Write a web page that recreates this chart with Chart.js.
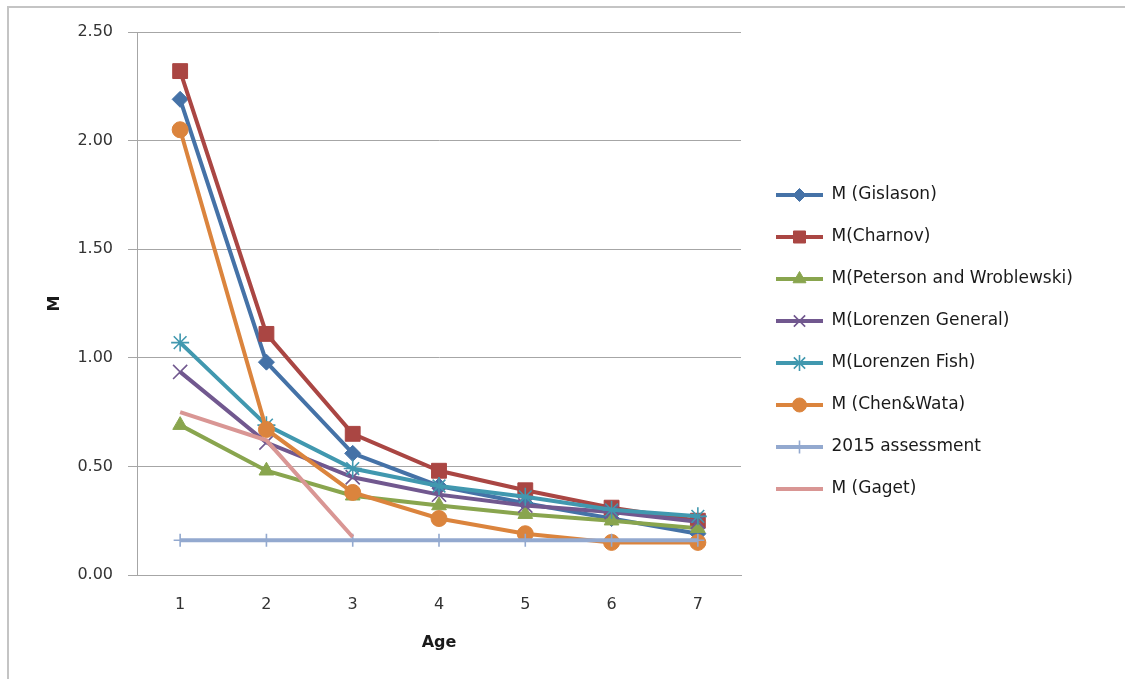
<!DOCTYPE html>
<html><head><meta charset="utf-8">
<script src="https://cdn.jsdelivr.net/npm/chart.js@4"></script>
<style>
html,body{margin:0;padding:0;background:#fff;}
#wrap{position:relative;width:1125px;height:679px;overflow:hidden;}
#frame{position:absolute;left:7px;top:6px;width:1200px;height:800px;border:2px solid #c4c4c4;pointer-events:none;}
canvas{position:absolute;left:0;top:0;}
</style></head><body>
<div id="wrap"><canvas id="c" width="1125" height="679"></canvas><div id="frame"></div></div>
<script>
// ---- data ----
const ages = ['1', '2', '3', '4', '5', '6', '7'];
const seriesNames = ['M (Gislason)', 'M(Charnov)', 'M(Peterson and Wroblewski)', 'M(Lorenzen General)', 'M(Lorenzen Fish)', 'M (Chen&Wata)', '2015 assessment', 'M (Gaget)'];
const mGislason  = [2.19, 0.98, 0.56, 0.41, 0.33, 0.26, 0.19];
const mCharnov   = [2.32, 1.11, 0.65, 0.48, 0.39, 0.31, 0.25];
const mPeterson  = [0.69, 0.48, 0.365, 0.32, 0.28, 0.25, 0.215];
const mLorGen    = [0.935, 0.61, 0.45, 0.37, 0.32, 0.29, 0.245];
const mLorFish   = [1.07, 0.69, 0.49, 0.41, 0.36, 0.30, 0.27];
const mChenWata  = [2.05, 0.67, 0.38, 0.26, 0.19, 0.15, 0.15];
const m2015      = [0.16, 0.16, 0.16, 0.16, 0.16, 0.16, 0.16];
const mGaget     = [0.75, 0.62, 0.175, null, null, null, null];
const yTickValues = [0, 0.5, 1.0, 1.5, 2.0, 2.5];

// ---- styles ----
const colors = ['#4572A7', '#AA4643', '#89A54E', '#71588F', '#4198AF', '#DB843D', '#93A9CF', '#D99694'];
const pStyles = ['rectRot', 'rect', 'triangle', 'crossRot', 'star', 'circle', 'cross', false];
const pRadius = [8, 10.5, 8.5, 10, 9, 8, 6.5, 0];
const pBorder = [1, 1, 1, 1.6, 1.6, 1, 1.6, 0];
const legRadius = [6.5, 8.5, 7.5, 8, 8, 7, 6.5, 0];
const allData = [mGislason, mCharnov, mPeterson, mLorGen, mLorFish, mChenWata, m2015, mGaget];

const FONT = "'DejaVu Sans', sans-serif";
const LEG_SIZE = 17, LEG_PAD = 25, LEG_BOX = 47;
const LINE_W = 4;

function manualPoint(g, style, r, x, y) {
  g.beginPath();
  if (style === 'circle') { g.arc(x, y, r, 0, Math.PI * 2); }
  else if (style === 'rect') { const s = r * Math.SQRT1_2; g.rect(x - s, y - s, 2 * s, 2 * s); }
  else if (style === 'rectRot') { g.moveTo(x - r, y); g.lineTo(x, y - r); g.lineTo(x + r, y); g.lineTo(x, y + r); g.closePath(); }
  else if (style === 'triangle') { for (let k = 0; k < 3; k++) { const a = k * 2 * Math.PI / 3; const px = x + Math.sin(a) * r, py = y - Math.cos(a) * r; k ? g.lineTo(px, py) : g.moveTo(px, py); } g.closePath(); }
  else if (style === 'cross' || style === 'star') { g.moveTo(x, y - r); g.lineTo(x, y + r); g.moveTo(x - r, y); g.lineTo(x + r, y); }
  if (style === 'crossRot' || style === 'star') { const d = r * Math.SQRT1_2; g.moveTo(x - d, y - d); g.lineTo(x + d, y + d); g.moveTo(x + d, y - d); g.lineTo(x - d, y + d); }
  g.fill(); g.stroke();
}

function makeIcon(i) {
  const cv = document.createElement('canvas');
  cv.width = LEG_BOX; cv.height = 22;
  const g = cv.getContext('2d');
  g.strokeStyle = colors[i]; g.lineWidth = LINE_W;
  g.beginPath(); g.moveTo(0, 11); g.lineTo(LEG_BOX, 11); g.stroke();
  if (pStyles[i]) {
    g.fillStyle = colors[i]; g.strokeStyle = colors[i]; g.lineWidth = pBorder[i];
    if (Chart.helpers && Chart.helpers.drawPoint) {
      g.beginPath();
      Chart.helpers.drawPoint(g, {pointStyle: pStyles[i], radius: legRadius[i], borderWidth: pBorder[i], rotation: 0}, LEG_BOX / 2, 11);
    } else {
      manualPoint(g, pStyles[i], legRadius[i], LEG_BOX / 2, 11);
    }
  }
  return cv;
}
const icons = seriesNames.map((_, i) => makeIcon(i));

// measure legend text to place plot area
const mc = document.createElement('canvas').getContext('2d');
mc.font = LEG_SIZE + "px " + FONT;
const maxText = Math.max(...seriesNames.map(s => mc.measureText(s).width));
const legendWidth = LEG_PAD + LEG_BOX + LEG_SIZE / 2 + maxText + 10;
const HIDDEN_GAP = 10;
const plotRight = 741;
const padRight = Math.max(0, 1125 - plotRight - HIDDEN_GAP - legendWidth);

const datasets = seriesNames.map((name, i) => ({
  label: name,
  data: allData[i],
  borderColor: colors[i],
  backgroundColor: colors[i],
  borderWidth: LINE_W,
  pointStyle: pStyles[i],
  pointRadius: pRadius[i],
  pointHoverRadius: pRadius[i],
  pointBorderWidth: pBorder[i],
  pointBackgroundColor: colors[i],
  pointBorderColor: colors[i],
  tension: 0,
  spanGaps: false,
  order: seriesNames.length - i,
  yAxisID: 'y'
}));

new Chart(document.getElementById('c'), {
  type: 'line',
  data: { labels: ages, datasets },
  options: {
    responsive: false,
    animation: false,
    events: [],
    layout: { padding: { left: 0, right: padRight, top: 32, bottom: 27 } },
    plugins: {
      tooltip: { enabled: false },
      legend: {
        position: 'right',
        align: 'center',
        maxWidth: 600,
        labels: {
          usePointStyle: true,
          pointStyleWidth: LEG_BOX,
          padding: LEG_PAD,
          color: '#1a1a1a',
          font: { family: FONT, size: LEG_SIZE },
          sort: (a, b) => a.datasetIndex - b.datasetIndex,
          generateLabels: (chart) => {
            const items = Chart.defaults.plugins.legend.labels.generateLabels(chart);
            items.forEach(it => { it.pointStyle = icons[it.datasetIndex]; it.rotation = 0; });
            return items;
          }
        }
      }
    },
    scales: {
      x: {
        type: 'category',
        offset: true,
        grid: { display: false, drawTicks: false },
        border: { display: true, color: '#a6a6a6', width: 1 },
        ticks: { color: '#333', font: { family: FONT, size: 16 }, padding: 20, maxRotation: 0 },
        title: { display: true, text: 'Age', color: '#1a1a1a', font: { family: FONT, size: 16, weight: 'bold' }, padding: { top: 0, bottom: 0 } },
        afterFit: (s) => { s.height = 77; }
      },
      y: {
        type: 'linear',
        position: 'left',
        min: 0, max: 2.5,
        afterBuildTicks: (s) => { s.ticks = yTickValues.map(v => ({ value: v })); },
        grid: { color: '#a6a6a6', lineWidth: 1, drawTicks: true, tickLength: 9 },
        border: { display: true, color: '#a6a6a6', width: 1 },
        ticks: { color: '#333', font: { family: FONT, size: 16 }, padding: 15, callback: (v) => Number(v).toFixed(2) },
        title: { display: true, text: 'M', color: '#1a1a1a', font: { family: FONT, size: 16, weight: 'bold' }, padding: { top: 45, bottom: 0 } },
        afterFit: (s) => { s.width = 137; }
      },
      y2: {
        type: 'linear',
        position: 'right',
        display: true,
        grid: { display: false, drawTicks: false },
        border: { display: false },
        ticks: { display: false },
        afterFit: (s) => { s.width = HIDDEN_GAP; }
      }
    }
  }
});
</script>
</body></html>
